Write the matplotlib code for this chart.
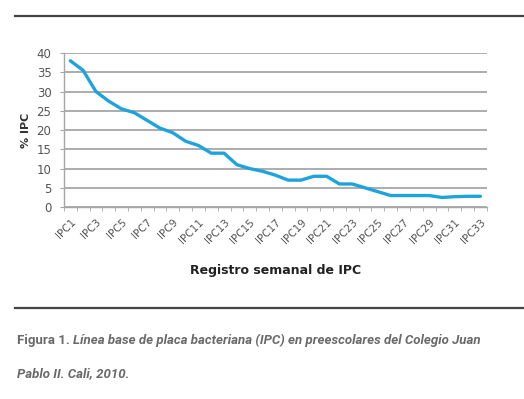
import matplotlib.pyplot as plt
from matplotlib.lines import Line2D

# weekly IPC values
semanas = ['IPC%d' % i for i in range(1, 34)]
ipc = [38, 35.5, 30, 27.5, 25.5, 24.5, 22.5, 20.5, 19.3, 17.1, 16, 14, 14, 11,
       10, 9.3, 8.3, 7, 7, 8, 8, 6, 6, 5, 4, 3, 3, 3, 3, 2.5, 2.7, 2.8, 2.8]
yticks = [0, 5, 10, 15, 20, 25, 30, 35, 40]

fig = plt.figure(figsize=(5.24, 3.99), dpi=100)
ax = fig.add_axes([0.122, 0.481, 0.807, 0.386])

x = list(range(len(semanas)))
ax.plot(x, ipc, color='#1fa3dd', linewidth=2.4, solid_capstyle='round')

ax.set_xlim(-0.5, len(semanas) - 0.5)
ax.set_ylim(0, 40)
ax.set_yticks(yticks)
ax.yaxis.grid(True, color='#a6a6a6', linewidth=1.3)
ax.set_axisbelow(True)

ax.set_xticks(x[::2])
ax.set_xticklabels(semanas[::2], rotation=45, ha='right', rotation_mode='anchor',
                   fontsize=7.5, color='#555555')
ax.set_xticks([i - 0.5 for i in range(len(semanas) + 1)], minor=True)
ax.tick_params(axis='x', which='major', length=0, pad=7)
ax.tick_params(axis='x', which='minor', length=3, color='#a6a6a6', direction='out')
ax.tick_params(axis='y', labelsize=8.5, colors='#555555', length=3, pad=6)
ax.tick_params(axis='y', color='#a6a6a6')

for s in ['top', 'right']:
    ax.spines[s].set_visible(False)
for s in ['left', 'bottom']:
    ax.spines[s].set_color('#a6a6a6')
    ax.spines[s].set_linewidth(1.0)

ax.set_ylabel('% IPC', fontsize=8, fontweight='bold', color='#333333', labelpad=4)
ax.set_xlabel('Registro semanal de IPC', fontsize=9, fontweight='bold',
              color='#222222', labelpad=14)

# rules above and below the figure block
fig.add_artist(Line2D([0.029, 1.0], [0.960, 0.960], color='#444444', linewidth=1.6))
fig.add_artist(Line2D([0.029, 1.0], [0.228, 0.228], color='#444444', linewidth=1.6))

t1 = fig.text(0.032, 0.138, 'Figura 1. ', fontsize=9.5, fontweight='bold',
              color='#6a6a6a', family='Roboto')
fig.canvas.draw()
ext = t1.get_window_extent()
fig.text(ext.x1 / fig.bbox.width, 0.138,
         'Línea base de placa bacteriana (IPC) en preescolares del Colegio Juan',
         fontsize=9.5, fontweight='bold', style='italic', color='#6a6a6a', family='Roboto')
fig.text(0.032, 0.055, 'Pablo II. Cali, 2010.', fontsize=9.5, fontweight='bold',
         style='italic', color='#6a6a6a', family='Roboto')

fig.savefig('out.png', dpi=100)
